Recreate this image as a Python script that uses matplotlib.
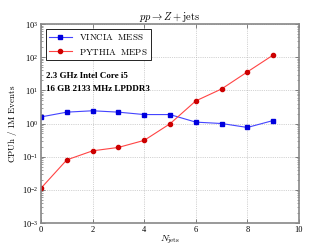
import numpy as np
import matplotlib
matplotlib.use('Agg')
from matplotlib import pyplot as plt
from matplotlib.ticker import LogLocator, NullFormatter

n_jets = [0, 1, 2, 3, 4, 5, 6, 7, 8, 9]
vincia_mess = [1.58, 2.2, 2.42, 2.2, 1.86, 1.86, 1.1, 1.0, 0.76, 1.23]
pythia_meps = [0.0112, 0.08, 0.15, 0.19, 0.31, 0.98, 4.8, 11.0, 36.0, 116.0]

x_ticks = [0, 2, 4, 6, 8, 10]

plt.rcParams['font.family'] = 'serif'
plt.rcParams['font.serif'] = ['Liberation Serif']
plt.rcParams['mathtext.fontset'] = 'cm'

fig = plt.figure(figsize=(3.32, 2.49), dpi=100)
ax = fig.add_axes([0.1235, 0.1044, 0.777, 0.7992])

ax.plot(n_jets, vincia_mess, color='#4444ff', lw=0.8, marker='s', ms=3,
        mfc='#0000dd', mec='#0000dd', label=r'$\mathrm{VINCIA\ \ MESS}$')
ax.plot(n_jets, pythia_meps, color='#ff4444', lw=0.8, marker='o', ms=3,
        mfc='#cc0000', mec='#cc0000', label=r'$\mathrm{PYTHIA\ \ MEPS}$')

ax.set_yscale('log')
ax.set_xlim(0, 10)
ax.set_ylim(1e-3, 1e3)
ax.set_xticks(x_ticks)
ax.yaxis.set_major_locator(LogLocator(base=10, numticks=10))
ax.yaxis.set_minor_locator(LogLocator(base=10, subs=np.arange(2, 10), numticks=10))
ax.yaxis.set_minor_formatter(NullFormatter())
ax.tick_params(which='both', direction='in', top=True, right=True, labelsize=6,
               color='#555555', pad=2)
ax.tick_params(which='major', length=3, width=0.5)
ax.tick_params(which='minor', length=1.5, width=0.4)
ax.grid(True, which='major', ls=':', lw=0.5, color='#aaaaaa')

for s in ax.spines.values():
    s.set_color('#888888')
    s.set_linewidth(1.2)

ax.set_title(r'$pp \rightarrow Z + \mathrm{jets}$', fontsize=7.5, pad=2)
ax.set_xlabel(r'$N_{\mathrm{jets}}$', fontsize=7, labelpad=0)
ax.set_ylabel(r'$\mathrm{CPUh\ /\ 1M\ Events}$', fontsize=6.5, labelpad=2)

leg = ax.legend(loc='upper left', fontsize=6.5, fancybox=False, edgecolor='black',
                framealpha=1, borderaxespad=0.5, handlelength=2.5)
leg.get_frame().set_linewidth(0.6)

ax.text(0.02, 0.74, '2.3 GHz Intel Core i5', transform=ax.transAxes,
        fontsize=6.5, fontweight='bold', va='center')
ax.text(0.02, 0.675, '16 GB 2133 MHz LPDDR3', transform=ax.transAxes,
        fontsize=6.5, fontweight='bold', va='center')

fig.savefig('out.png', dpi=100)
